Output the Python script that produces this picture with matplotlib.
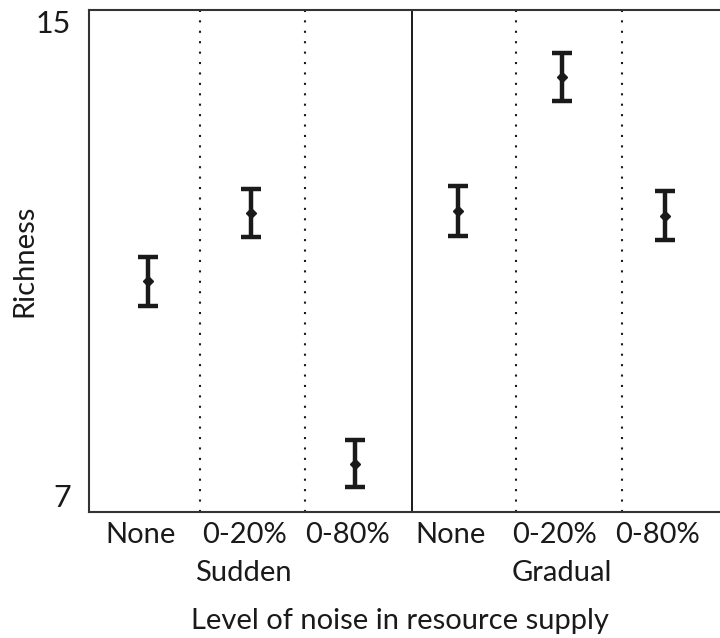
import matplotlib.pyplot as plt
from matplotlib.transforms import blended_transform_factory

categories = ["None", "0-20%", "0-80%", "None", "0-20%", "0-80%"]
groups = ["Sudden", "Gradual"]
richness = [10.68, 11.77, 7.77, 11.80, 13.93, 11.72]
errors = [0.39, 0.38, 0.37, 0.40, 0.38, 0.39]

plt.rcParams['font.family'] = ['Lato', 'DejaVu Sans']
ink = '#1a1a1a'
fs = 21

fig = plt.figure(figsize=(7.2, 6.38), dpi=100)
ax = fig.add_axes([89/720, 126/638, 631/720, 502/638])

x = list(range(len(categories)))
ax.errorbar(x, richness, yerr=errors, fmt='D', color=ink, ms=5.5,
            elinewidth=3.2, capsize=7.5, capthick=3.2)

# separators between categories
for i in range(len(categories) - 1):
    if i == 2:
        ax.axvline(i + 0.55, color=ink, lw=1.4)
    else:
        ax.axvline(i + 0.5 + 0.02 * i, color=ink, lw=1.5, ls=(0, (1, 4)))

ax.set_xlim(-0.57, 5.53)
ax.set_ylim(7, 15)
ax.set_yticks([7, 15])
ylabs = ax.set_yticklabels(['7', '15'], fontsize=fs + 1)
ylabs[0].set_va('bottom')
ylabs[1].set_va('top')
ax.set_xticks([i - 0.07 for i in x])
ax.set_xticklabels(categories, fontsize=fs)
ax.tick_params(length=0, pad=7, colors=ink)
ax.tick_params(axis='y', pad=13)

ax.spines['right'].set_visible(False)
for s in ['left', 'top', 'bottom']:
    ax.spines[s].set_color('#333333')
    ax.spines[s].set_linewidth(1.5)

trans = blended_transform_factory(ax.transData, fig.transFigure)
ax.text(0.92, 1 - 573/638, groups[0], transform=trans, ha='center', va='center',
        fontsize=fs, color=ink)
ax.text(4.0, 1 - 573/638, groups[1], transform=trans, ha='center', va='center',
        fontsize=fs, color=ink)

fig.text(400/720, 1 - 621/638, "Level of noise in resource supply", ha='center',
         va='center', fontsize=fs, color=ink)
ax.set_ylabel("Richness", fontsize=fs, color=ink)
ax.yaxis.set_label_coords(-0.082, 0.5)

fig.savefig("out.png", dpi=100)
